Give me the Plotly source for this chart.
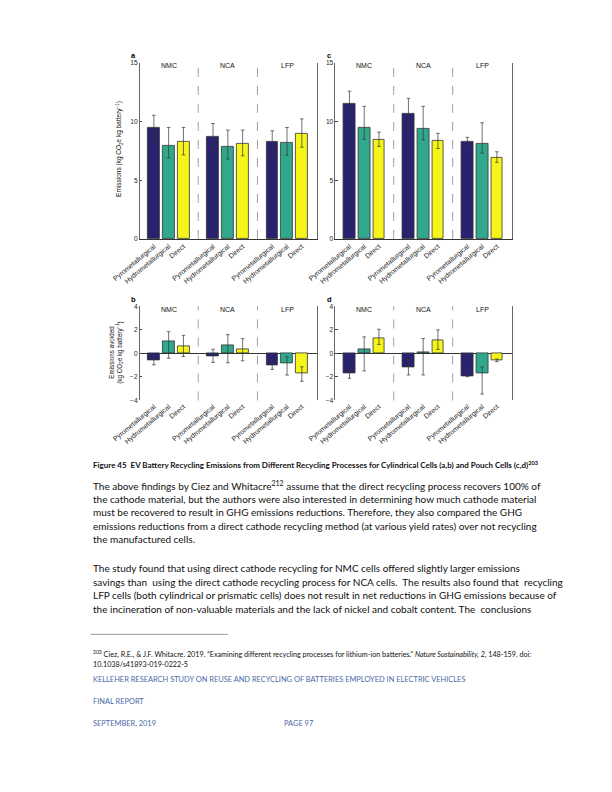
import plotly.graph_objects as go

W, H = 612, 792

chemistries = ["NMC", "NCA", "LFP"]
processes = ["Pyrometallurgical", "Hydrometallurgical", "Direct"]
colors = ["#29236f", "#31a88b", "#f5f51b"]

# Panel a: cylindrical cells, emissions
a_vals = {"Pyrometallurgical": [9.45, 8.68, 8.31],
          "Hydrometallurgical": [7.95, 7.85, 8.20],
          "Direct": [8.30, 8.12, 8.99]}
a_hi = {"Pyrometallurgical": [10.53, 9.83, 9.21],
        "Hydrometallurgical": [9.49, 9.27, 9.49],
        "Direct": [9.49, 9.27, 10.22]}
a_lo = {"Pyrometallurgical": [8.31, 7.47, 7.30],
        "Hydrometallurgical": [6.91, 6.80, 7.13],
        "Direct": [7.16, 7.08, 7.81]}

# Panel c: pouch cells, emissions
c_vals = {"Pyrometallurgical": [11.52, 10.65, 8.31],
          "Hydrometallurgical": [9.44, 9.38, 8.09],
          "Direct": [8.48, 8.37, 6.94]}
c_hi = {"Pyrometallurgical": [12.58, 11.97, 8.65],
        "Hydrometallurgical": [11.29, 11.29, 9.89],
        "Direct": [9.10, 8.99, 7.42]}
c_lo = {"Pyrometallurgical": [10.51, 9.33, 7.92],
        "Hydrometallurgical": [8.48, 8.43, 7.30],
        "Direct": [7.87, 7.70, 6.52]}

# Panel b: cylindrical cells, emissions avoided
b_vals = {"Pyrometallurgical": [-0.57, -0.21, -1.03],
          "Hydrometallurgical": [1.00, 0.66, -0.86],
          "Direct": [0.60, 0.32, -1.70]}
b_hi = {"Pyrometallurgical": [-0.25, 0.35, -0.63],
        "Hydrometallurgical": [1.84, 1.59, -0.29],
        "Direct": [1.53, 1.25, -1.14]}
b_lo = {"Pyrometallurgical": [-0.97, -0.77, -1.36],
        "Hydrometallurgical": [-0.41, -0.80, -1.84],
        "Direct": [-0.27, -0.63, -2.37]}

# Panel d: pouch cells, emissions avoided
d_vals = {"Pyrometallurgical": [-1.71, -1.15, -1.94],
          "Hydrometallurgical": [0.37, 0.11, -1.69],
          "Direct": [1.32, 1.12, -0.59]}
d_hi = {"Pyrometallurgical": [-1.38, -0.51, -1.90],
        "Hydrometallurgical": [1.40, 1.26, -1.15],
        "Direct": [2.05, 2.00, -0.48]}
d_lo = {"Pyrometallurgical": [-2.11, -1.83, -1.98],
        "Hydrometallurgical": [-1.49, -1.83, -3.46],
        "Direct": [0.76, 0.34, -0.70]}

top_ticks = [0, 5, 10, 15]
bottom_ticks = [-4, -2, 0, 2, 4]

caption = ("Figure 45  EV Battery Recycling Emissions from Different Recycling Processes for "
           "Cylindrical Cells (a,b) and Pouch Cells (c,d)<sup>203</sup>")
body_lines = [
    "The above findings by Ciez and Whitacre<sup>212</sup> assume that the direct recycling process recovers 100% of",
    "the cathode material, but the authors were also interested in determining how much cathode material",
    "must be recovered to result in GHG emissions reductions. Therefore, they also compared the GHG",
    "emissions reductions from a direct cathode recycling method (at various yield rates) over not recycling",
    "the manufactured cells.",
    "The study found that using direct cathode recycling for NMC cells offered slightly larger emissions",
    "savings than  using the direct cathode recycling process for NCA cells.  The results also found that  recycling",
    "LFP cells (both cylindrical or prismatic cells) does not result in net reductions in GHG emissions because of",
    "the incineration of non-valuable materials and the lack of nickel and cobalt content. The  conclusions",
]
body_y = [486, 499.4, 512.8, 526.2, 539.8, 569, 582.7, 596.6, 610.6]
footnote_lines = [
    "<sup>203</sup> Ciez, R.E., & J.F. Whitacre. 2019. \u201cExamining different recycling processes for lithium-ion batteries.\u201d "
    "<i>Nature Sustainability, 2,</i> 148-159. doi:",
    "10.1038/s41893-019-0222-5",
]
footer_lines = ["KELLEHER RESEARCH STUDY ON REUSE AND RECYCLING OF BATTERIES EMPLOYED IN ELECTRIC VEHICLES",
                "FINAL REPORT", "SEPTEMBER, 2019"]


def xd(x0, x1):
    return [x0 / W, x1 / W]


def yd(y_top, y_bot):
    return [1 - y_bot / H, 1 - y_top / H]


panels = [
    dict(key="a", vals=a_vals, hi=a_hi, lo=a_lo, xdom=xd(118, 303), ydom=yd(59.3, 237),
         yr=[0, 15], ticks=top_ticks),
    dict(key="c", vals=c_vals, hi=c_hi, lo=c_lo, xdom=xd(322.7, 507), ydom=yd(59.3, 237),
         yr=[0, 15], ticks=top_ticks),
    dict(key="b", vals=b_vals, hi=b_hi, lo=b_lo, xdom=xd(118, 303), ydom=yd(305, 400),
         yr=[-4, 4], ticks=bottom_ticks),
    dict(key="d", vals=d_vals, hi=d_hi, lo=d_lo, xdom=xd(322.7, 507), ydom=yd(305, 400),
         yr=[-4, 4], ticks=bottom_ticks),
]

fig = go.Figure()
tickvals = []
ticktext = []
for g in range(3):
    for p, proc in enumerate(processes):
        tickvals.append(4 * g + p + 1)
        ticktext.append(proc)

sans = "Liberation Sans, Arial, sans-serif"
xtick_font = dict(family=sans, size=6.9, color="#222222")
ytick_font = dict(family=sans, size=6.6, color="#222222")

for i, pn in enumerate(panels):
    n = i + 1
    xa = "x" if n == 1 else f"x{n}"
    ya = "y" if n == 1 else f"y{n}"
    for p, proc in enumerate(processes):
        xs = [4 * g + p + 1 for g in range(3)]
        v = pn["vals"][proc]
        hi = [h - val for h, val in zip(pn["hi"][proc], v)]
        lo = [val - l for l, val in zip(pn["lo"][proc], v)]
        fig.add_trace(go.Bar(
            x=xs, y=v, width=0.8, xaxis=xa, yaxis=ya, name=proc, showlegend=False,
            marker=dict(color=colors[p], line=dict(color="#333333", width=0.8)),
            error_y=dict(type="data", symmetric=False, array=hi, arrayminus=lo,
                         color="#333333", thickness=0.7, width=1.8),
        ))
    is_top = pn["yr"][0] == 0
    fig.layout[f"xaxis{'' if n == 1 else n}"] = dict(
        domain=pn["xdom"], anchor=ya, range=[0.05, 12.0], tickmode="array",
        tickvals=tickvals, ticktext=ticktext, tickangle=-40, tickfont=xtick_font,
        showgrid=False, zeroline=False, ticks="",
        showline=is_top, linecolor="#333333", linewidth=0.8,
    )
    fig.layout[f"yaxis{'' if n == 1 else n}"] = dict(
        domain=pn["ydom"], anchor=xa, range=pn["yr"], tickmode="array",
        tickvals=pn["ticks"], tickfont=ytick_font, showgrid=False,
        zeroline=not is_top, zerolinecolor="#333333", zerolinewidth=0.9,
        showline=True, mirror=True, linecolor="#666666", linewidth=0.8,
        ticks="inside", ticklen=2.5, tickcolor="#444444", tickwidth=0.7,
    )
    # dashed group separators
    for sep in [4, 8]:
        fig.add_shape(type="line", xref=xa, yref=f"{ya} domain", x0=sep, x1=sep, y0=0, y1=1,
                      line=dict(color="#888888", width=0.8, dash="dash"))
    # group labels
    for g, chem in enumerate(chemistries):
        fig.add_annotation(x=4 * g + 2, xref=xa, y=pn["ydom"][1] - 3 / H, yref="paper",
                           text=chem, showarrow=False, yanchor="middle",
                           font=dict(family=sans, size=7, color="#111111"))
    # panel letter
    fig.add_annotation(x=pn["xdom"][0] - 11 / W, y=pn["ydom"][1] + 7 / H, xref="paper", yref="paper",
                       text=f"<b>{pn['key']}</b>", showarrow=False, xanchor="left", yanchor="middle",
                       font=dict(family=sans, size=7.5, color="#000000"))

fig.add_annotation(x=96.5 / W, y=1 - 146 / H, xref="paper", yref="paper", textangle=-90,
                   text="Emissions (kg CO<sub>2</sub>e kg battery<sup>\u22121</sup>)", showarrow=False,
                   xanchor="center", yanchor="middle",
                   font=dict(family=sans, size=6.5, color="#111111"))
fig.add_annotation(x=94 / W, y=1 - 352 / H, xref="paper", yref="paper", textangle=-90,
                   text="Emissions avoided<br>(kg CO<sub>2</sub>e kg battery<sup>\u22121</sup>)", showarrow=False,
                   xanchor="center", yanchor="middle",
                   font=dict(family=sans, size=6.3, color="#111111"))

body_font = dict(family="Lato, Open Sans, sans-serif", size=10.0, color="#111111")
x_left = 66.5 / W
fig.add_annotation(x=x_left, y=1 - 465 / H, xref="paper", yref="paper", text=f"<b>{caption}</b>",
                   showarrow=False, xanchor="left", yanchor="middle",
                   font=dict(family="Lato, Open Sans, sans-serif", size=8.0, color="#111111"))
for line, yy in zip(body_lines, body_y):
    fig.add_annotation(x=x_left, y=1 - yy / H, xref="paper", yref="paper", text=line,
                       showarrow=False, xanchor="left", yanchor="middle", font=body_font)

fig.add_shape(type="line", xref="paper", yref="paper", x0=x_left, x1=210 / W,
              y0=1 - 636 / H, y1=1 - 636 / H, line=dict(color="#999999", width=1))
for line, yy in zip(footnote_lines, [656, 666.7]):
    fig.add_annotation(x=x_left, y=1 - yy / H, xref="paper", yref="paper", text=line,
                       showarrow=False, xanchor="left", yanchor="middle",
                       font=dict(family="Lato, Open Sans, sans-serif", size=7.2, color="#111111"))

foot_font = dict(family="Lato, Open Sans, sans-serif", size=7.45, color="#4a6aa6")
for line, yy in zip(footer_lines, [681.7, 704, 725.7]):
    fig.add_annotation(x=x_left, y=1 - yy / H, xref="paper", yref="paper", text=line,
                       showarrow=False, xanchor="left", yanchor="middle", font=foot_font)
fig.add_annotation(x=267 / W, y=1 - 725.7 / H, xref="paper", yref="paper", text="PAGE 97",
                   showarrow=False, xanchor="left", yanchor="middle", font=foot_font)

fig.update_layout(width=W, height=H, margin=dict(l=0, r=0, t=0, b=0),
                  paper_bgcolor="white", plot_bgcolor="white", barmode="overlay",
                  bargap=0, showlegend=False)

fig.write_html("out.html", config={"displayModeBar": False},
               post_script="document.body.style.margin='0';")
